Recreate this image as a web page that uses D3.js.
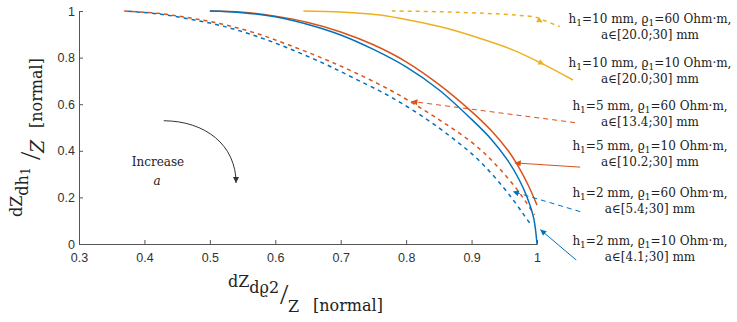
<!DOCTYPE html>
<html>
<head>
<meta charset="utf-8">
<script src="https://cdn.jsdelivr.net/npm/d3@7"></script>
<style>
  body { margin: 0; background: #fff; }
  .axis path, .axis line { stroke: #555; }
  .axis text { font-family: "Liberation Sans", Arial, sans-serif; font-size: 12.5px; fill: #333; }
  .lbl { font-family: "DejaVu Serif", serif; font-size: 12px; fill: #222; }
  .axlbl { font-family: "DejaVu Serif", serif; font-size: 16px; fill: #222; }
</style>
</head>
<body>
<div id="chart"></div>
<script>
// data
var xTicks = [0.3, 0.4, 0.5, 0.6, 0.7, 0.8, 0.9, 1];
var yTicks = [0, 0.2, 0.4, 0.6, 0.8, 1];

// h1 = 10 mm
var yelDashX = [0.778, 0.85, 0.92, 0.97, 1.0, 1.012, 1.035];
var yelDashY = [1.0, 0.997, 0.99, 0.982, 0.972, 0.958, 0.933];
var yelSolidX = [0.643, 0.7, 0.76, 0.81, 0.862, 0.91, 0.963, 1.007, 1.055];
var yelSolidY = [1.0, 0.996, 0.983, 0.958, 0.926, 0.885, 0.833, 0.775, 0.704];

// h1 = 5 mm
var orDashX = [0.369, 0.42, 0.47, 0.52, 0.57, 0.62, 0.674, 0.72, 0.776, 0.83, 0.87, 0.9, 0.925, 0.945, 0.965, 0.982, 0.996];
var orDashY = [1.0, 0.99, 0.97, 0.943, 0.905, 0.855, 0.795, 0.738, 0.66, 0.57, 0.497, 0.437, 0.375, 0.316, 0.25, 0.185, 0.125];
var orSolidX = [0.5, 0.55, 0.6, 0.65, 0.7, 0.75, 0.8, 0.85, 0.9, 0.93, 0.956, 0.972, 0.987, 1.0];
var orSolidY = [1.0, 0.995, 0.978, 0.951, 0.91, 0.855, 0.782, 0.685, 0.568, 0.487, 0.40, 0.33, 0.25, 0.167];

// h1 = 2 mm
var blDashX = [0.369, 0.42, 0.47, 0.52, 0.57, 0.62, 0.674, 0.72, 0.776, 0.83, 0.872, 0.9, 0.924, 0.948, 0.966, 0.98, 0.99];
var blDashY = [1.0, 0.988, 0.965, 0.935, 0.893, 0.84, 0.775, 0.712, 0.632, 0.538, 0.452, 0.388, 0.322, 0.245, 0.18, 0.125, 0.085];
var blSolidX = [0.5, 0.55, 0.6, 0.65, 0.7, 0.75, 0.8, 0.85, 0.9, 0.93, 0.955, 0.972, 0.985, 0.995, 1.0];
var blSolidY = [1.0, 0.993, 0.975, 0.942, 0.897, 0.835, 0.76, 0.662, 0.535, 0.45, 0.36, 0.28, 0.2, 0.11, 0.0];

// legend texts
var hValues = ['10', '10', '5', '5', '2', '2'];
var rhoValues = ['60', '10', '60', '10', '60', '10'];
var aRanges = ['20.0', '20.0', '13.4', '10.2', '5.4', '4.1'];

var colors = { yellow: '#EDB120', orange: '#D95319', blue: '#0072BD' };

// dimensions
var dimensions = {
  width: 737,
  height: 322,
  margin: { top: 11, bottom: 78, left: 79, right: 200 }
};
dimensions.containerWidth = dimensions.width - dimensions.margin.left - dimensions.margin.right;
dimensions.containerHeight = dimensions.height - dimensions.margin.top - dimensions.margin.bottom;

var svg = d3.select('#chart')
  .append('svg')
  .attr('width', dimensions.width)
  .attr('height', dimensions.height);

var container = svg.append('g')
  .attr('transform', 'translate(' + dimensions.margin.left + ',' + dimensions.margin.top + ')');

// scales
var xScale = d3.scaleLinear().domain([0.3, 1]).range([0, dimensions.containerWidth]);
var yScale = d3.scaleLinear().domain([0, 1]).range([dimensions.containerHeight, 0]);

// arrow markers
var defs = svg.append('defs');
function marker(id, color) {
  defs.append('marker')
    .attr('id', id)
    .attr('viewBox', '0 0 10 10')
    .attr('refX', 10).attr('refY', 5)
    .attr('markerWidth', 7).attr('markerHeight', 6)
    .attr('markerUnits', 'userSpaceOnUse')
    .attr('orient', 'auto')
    .append('path')
    .attr('d', 'M0,0 L10,5 L0,10 z')
    .attr('fill', color);
}
marker('arr-y', colors.yellow);
marker('arr-o', colors.orange);
marker('arr-b', colors.blue);
marker('arr-k', '#333');

// axes
var xAxis = d3.axisBottom(xScale)
  .tickValues(xTicks)
  .tickFormat(d3.format('~g'))
  .tickSizeInner(-4)
  .tickSizeOuter(0)
  .tickPadding(9);
container.append('g')
  .attr('transform', 'translate(0,' + dimensions.containerHeight + ')')
  .classed('axis', true)
  .call(xAxis);

var yAxis = d3.axisLeft(yScale)
  .tickValues(yTicks)
  .tickFormat(d3.format('~g'))
  .tickSizeInner(-4)
  .tickSizeOuter(0)
  .tickPadding(4);
container.append('g')
  .classed('axis', true)
  .call(yAxis);

// curves
var line = d3.line()
  .x(d => xScale(d[0]))
  .y(d => yScale(d[1]))
  .curve(d3.curveCatmullRom.alpha(0.5));

function drawCurve(xs, ys, color, dashed, offset) {
  container.append('path')
    .datum(d3.zip(xs, ys))
    .attr('d', line)
    .attr('fill', 'none')
    .attr('stroke', color)
    .attr('stroke-width', 1.5)
    .attr('stroke-dasharray', dashed ? '4,4' : null)
    .attr('stroke-dashoffset', offset || 0);
}

drawCurve(yelDashX, yelDashY, colors.yellow, true);
drawCurve(yelSolidX, yelSolidY, colors.yellow, false);
drawCurve(orDashX, orDashY, colors.orange, true, 0);
drawCurve(blDashX, blDashY, colors.blue, true, 4);
drawCurve(orSolidX, orSolidY, colors.orange, false);
drawCurve(blSolidX, blSolidY, colors.blue, false);

// leader arrows [x1, y1, x2, y2] in data units
var leaders = [
  { p: [0.99, 0.977, 1.009, 0.952], m: 'arr-y', c: colors.yellow, dash: null, hidden: true },
  { p: [0.997, 0.79, 1.011, 0.77], m: 'arr-y', c: colors.yellow, dash: null, hidden: true },
  { p: [1.058, 0.521, 0.808, 0.612], m: 'arr-o', c: colors.orange, dash: '5,4' },
  { p: [1.066, 0.33, 0.966, 0.348], m: 'arr-o', c: colors.orange, dash: null },
  { p: [1.066, 0.139, 0.963, 0.225], m: 'arr-b', c: colors.blue, dash: '5,4' },
  { p: [1.06, -0.069, 1.005, 0.062], m: 'arr-b', c: colors.blue, dash: null }
];
container.selectAll('.leader')
  .data(leaders)
  .join('path')
  .attr('class', 'leader')
  .attr('d', d => 'M' + xScale(d.p[0]) + ',' + yScale(d.p[1]) + 'L' + xScale(d.p[2]) + ',' + yScale(d.p[3]))
  .attr('fill', 'none')
  .attr('stroke', d => d.hidden ? 'none' : d.c)
  .attr('stroke-width', 1)
  .attr('stroke-dasharray', d => d.dash)
  .attr('marker-end', d => 'url(#' + d.m + ')');

// "Increase a" arrow
var arc = d3.path();
arc.moveTo(xScale(0.4295), yScale(0.529));
arc.bezierCurveTo(xScale(0.493), yScale(0.528), xScale(0.540), yScale(0.425), xScale(0.540), yScale(0.262));
container.append('path')
  .attr('d', arc.toString())
  .attr('fill', 'none')
  .attr('stroke', '#333')
  .attr('stroke-width', 1)
  .attr('marker-end', 'url(#arr-k)');

svg.append('text')
  .attr('class', 'lbl')
  .attr('x', 158).attr('y', 166)
  .attr('text-anchor', 'middle')
  .text('Increase');
svg.append('text')
  .attr('class', 'lbl')
  .attr('x', 157).attr('y', 185)
  .attr('text-anchor', 'middle')
  .style('font-style', 'italic')
  .text('a');

// legend labels
var labelBaselines = [23, 67, 110, 150, 197, 245];
hValues.forEach(function (h, i) {
  var t = svg.append('text')
    .attr('class', 'lbl')
    .attr('x', 650).attr('y', labelBaselines[i])
    .attr('text-anchor', 'middle');
  t.append('tspan').text('h');
  t.append('tspan').attr('dy', 3).style('font-size', '9px').text('1');
  t.append('tspan').attr('dy', -3).text('=' + h + ' mm, \u03F1');
  t.append('tspan').attr('dy', 3).style('font-size', '9px').text('1');
  t.append('tspan').attr('dy', -3).text('=' + rhoValues[i] + ' Ohm\u00B7m,');
  svg.append('text')
    .attr('class', 'lbl')
    .attr('x', 650).attr('y', labelBaselines[i] + 15.5)
    .attr('text-anchor', 'middle')
    .text('a\u2208[' + aRanges[i] + ';30] mm');
});

// x axis title
var xt = svg.append('text').attr('class', 'axlbl').attr('x', 228).attr('y', 287);
xt.append('tspan').text('dZ');
xt.append('tspan').attr('dy', 6).text('d\u03F12');
svg.append('text')
  .attr('x', 280).attr('y', 304)
  .style('font-family', '"Liberation Serif", serif')
  .style('font-size', '30px')
  .attr('fill', '#222')
  .text('/');
svg.append('text').attr('class', 'axlbl').attr('x', 288).attr('y', 312).text('Z');
svg.append('text').attr('class', 'axlbl').attr('x', 313).attr('y', 311).text('[normal]');

// y axis title
var yt = svg.append('g').attr('transform', 'rotate(-90)');
var yt1 = yt.append('text').attr('class', 'axlbl').attr('x', -217).attr('y', 22);
yt1.append('tspan').text('dZ');
yt1.append('tspan').attr('dy', 6).text('dh');
yt1.append('tspan').attr('dy', 2).style('font-size', '12px').text('1');
yt.append('text')
  .attr('x', -160).attr('y', 40)
  .style('font-family', '"Liberation Serif", serif')
  .style('font-size', '30px')
  .attr('fill', '#222')
  .text('/');
yt.append('text').attr('class', 'axlbl').attr('x', -153).attr('y', 44)
  .style('font-style', 'italic').style('font-size', '19px').text('Z');
yt.append('text').attr('class', 'axlbl').attr('x', -128).attr('y', 42).text('[normal]');
</script>
</body>
</html>
